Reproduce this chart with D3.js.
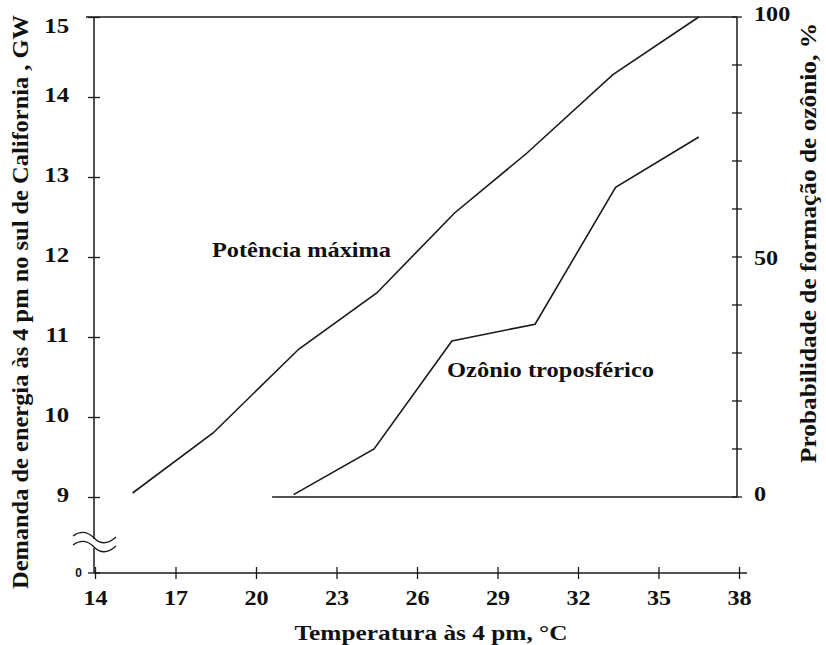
<!DOCTYPE html>
<html>
<head>
<meta charset="utf-8">
<script src="https://cdn.jsdelivr.net/npm/d3@7"></script>
<style>
  html, body { margin: 0; padding: 0; background: #fff; }
  svg { display: block; }
  text { font-family: "Liberation Serif", "Times New Roman", serif; font-weight: bold; fill: #111; }
</style>
</head>
<body>
<svg id="chart" width="826" height="645"></svg>
<script>
// Peak power demand (GW) against afternoon temperature
const powerTemp = [15.4, 18.4, 21.6, 24.5, 27.4, 30.1, 33.3, 36.5];
const powerGW   = [9.05, 9.8, 10.85, 11.55, 12.55, 13.3, 14.28, 15.0];

// Probability of tropospheric ozone formation (%) against temperature
const ozoneTemp = [21.4, 24.4, 27.3, 30.4, 33.4, 36.5];
const ozonePct  = [0.5, 10, 32.5, 36, 64.5, 75];

// Tick values
const tempTicks  = [14, 17, 20, 23, 26, 29, 32, 35, 38];
const gwTicks    = [9, 10, 11, 12, 13, 14, 15];
const pctTicks   = [0, 10, 20, 30, 40, 50, 60, 70, 80, 90, 100];
const pctLabels  = [0, 50, 100];

const svg = d3.select("#chart");
const ink = "#1a1a1a";
const serif = "Liberation Serif";

// Widen glyphs horizontally along the text direction
function stretch(sel, sx) {
  sel.each(function () {
    const len = this.getComputedTextLength();
    d3.select(this).attr("textLength", len * sx).attr("lengthAdjust", "spacingAndGlyphs");
  });
}
function fitLength(sel, len) {
  sel.attr("textLength", len).attr("lengthAdjust", "spacingAndGlyphs");
}

const x  = d3.scaleLinear().domain([14, 38]).range([95, 739]);
const yL = d3.scaleLinear().domain([9, 15]).range([497, 17]);
const yR = d3.scaleLinear().domain([0, 100]).range([497, 17]);
const xAxisY = 573;
const leftX = x(14) - 1;
const rightX = 737;

// Frame: top edge
svg.append("line")
  .attr("x1", leftX - 8).attr("x2", rightX)
  .attr("y1", yL(15)).attr("y2", yL(15))
  .attr("stroke", ink).attr("stroke-width", 1.5);

// Left axis line, broken near the bottom
svg.append("line").attr("x1", leftX).attr("x2", leftX)
  .attr("y1", yL(15)).attr("y2", 539).attr("stroke", ink).attr("stroke-width", 1.5);
svg.append("line").attr("x1", leftX).attr("x2", leftX)
  .attr("y1", 548).attr("y2", xAxisY).attr("stroke", ink).attr("stroke-width", 1.5);

// Break marks
[0, 9].forEach(dy => {
  svg.append("path")
    .attr("d", `M${leftX - 21},${536 + dy} Q${leftX - 10},${528 + dy} ${leftX},${538 + dy} T${leftX + 22},${537 + dy}`)
    .attr("fill", "none").attr("stroke", ink).attr("stroke-width", 1.3);
});

// Left axis ticks (crossing) and labels; the top label sits below the frame
const leftAxis = d3.axisLeft(yL).tickValues(gwTicks).tickFormat(d3.format("d"))
  .tickSizeInner(6).tickSizeOuter(0).tickPadding(19);
const gLeft = svg.append("g").attr("transform", `translate(${leftX},0)`).call(leftAxis);
gLeft.select(".domain").remove();
gLeft.selectAll(".tick line").attr("stroke", ink).attr("stroke-width", 1.3).attr("x2", 6).attr("x1", -6);
gLeft.selectAll(".tick text").attr("font-size", 21).attr("fill", "#111")
  .attr("font-family", serif).attr("font-weight", "bold")
  .attr("dy", d => d === 15 ? "0.72em" : "0.22em").call(stretch, 1.18);

// Zero marker at the bottom of the left axis
svg.append("line").attr("x1", leftX - 6).attr("x2", leftX + 6)
  .attr("y1", xAxisY).attr("y2", xAxisY).attr("stroke", ink).attr("stroke-width", 1.3);
svg.append("text").attr("x", leftX - 12).attr("y", xAxisY + 4)
  .attr("text-anchor", "end").attr("font-size", 12)
  .style("font-family", "Liberation Sans, Arial, sans-serif").text("0");

// Bottom axis
const bottomAxis = d3.axisBottom(x).tickValues(tempTicks).tickFormat(d3.format("d"))
  .tickSizeInner(6).tickSizeOuter(0).tickPadding(12);
const gBottom = svg.append("g").attr("transform", `translate(0,${xAxisY})`).call(bottomAxis);
gBottom.select(".domain").remove();
gBottom.selectAll(".tick line").attr("stroke", ink).attr("stroke-width", 1.3).attr("y1", -6).attr("y2", 6);
gBottom.selectAll(".tick text").attr("font-size", 21).attr("fill", "#111")
  .attr("font-family", serif).attr("font-weight", "bold")
  .attr("y", 0).attr("dy", 0).attr("transform", "translate(0,32)").call(stretch, 1.15);
svg.append("line").attr("x1", leftX).attr("x2", x(38) + 8)
  .attr("y1", xAxisY).attr("y2", xAxisY).attr("stroke", ink).attr("stroke-width", 1.5);

// Right axis
svg.append("line").attr("x1", rightX).attr("x2", rightX)
  .attr("y1", yR(100)).attr("y2", yR(0)).attr("stroke", ink).attr("stroke-width", 1.5);
svg.selectAll(".rtick").data(pctTicks).join("line").attr("class", "rtick")
  .attr("x1", rightX - 5).attr("x2", rightX + 5)
  .attr("y1", d => yR(d)).attr("y2", d => yR(d))
  .attr("stroke", ink).attr("stroke-width", 1.3);
svg.selectAll(".rlabel").data(pctLabels).join("text").attr("class", "rlabel")
  .attr("x", 754).attr("y", d => yR(d)).attr("dy", d => d === 50 ? "0.36em" : "0.2em")
  .attr("font-size", 21).text(d => d).call(stretch, 1.15);

// Ozone baseline
svg.append("line").attr("x1", x(20.6)).attr("x2", rightX)
  .attr("y1", yR(0)).attr("y2", yR(0)).attr("stroke", ink).attr("stroke-width", 1.5);

// Data lines
const powerLine = d3.line().x(d => x(d[0])).y(d => yL(d[1]));
const ozoneLine = d3.line().x(d => x(d[0])).y(d => yR(d[1]));
svg.append("path").datum(d3.zip(powerTemp, powerGW)).attr("d", powerLine)
  .attr("fill", "none").attr("stroke", ink).attr("stroke-width", 1.6);
svg.append("path").datum(d3.zip(ozoneTemp, ozonePct)).attr("d", ozoneLine)
  .attr("fill", "none").attr("stroke", ink).attr("stroke-width", 1.6);

// Series labels
svg.append("text").attr("x", 212).attr("y", 257).attr("font-size", 21)
  .text("Potência máxima").call(fitLength, 179);
svg.append("text").attr("x", 447).attr("y", 377).attr("font-size", 21)
  .text("Ozônio troposférico").call(fitLength, 207);

// Axis titles
svg.append("text").attr("x", 431).attr("y", 640).attr("text-anchor", "middle")
  .attr("font-size", 22).text("Temperatura às 4 pm, °C").call(fitLength, 273);
svg.append("text").attr("transform", "translate(28,302) rotate(-90)").attr("text-anchor", "middle")
  .attr("font-size", 24).text("Demanda de energia às 4 pm no sul de California , GW").call(fitLength, 574);
svg.append("text").attr("transform", "translate(816,243) rotate(-90)").attr("text-anchor", "middle")
  .attr("font-size", 24).text("Probabilidade de formação de ozônio, %").call(fitLength, 440);
</script>
</body>
</html>
